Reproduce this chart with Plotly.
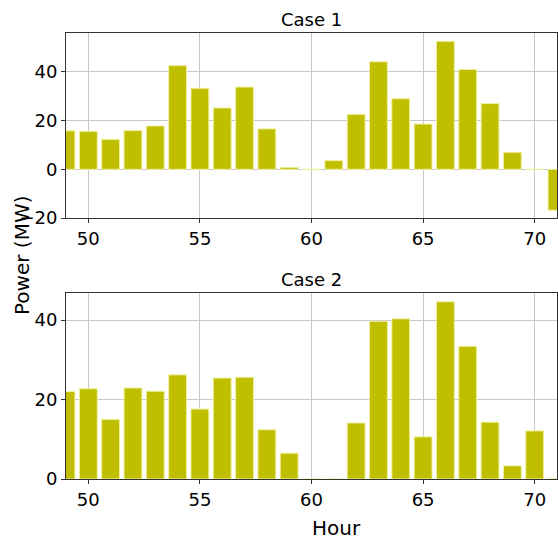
import plotly.graph_objects as go
from plotly.subplots import make_subplots

hours = list(range(49, 72))
case1 = [15.8, 15.6, 12.3, 15.9, 17.8, 42.6, 33.3, 25.2, 33.8, 16.6, 0.8, 0.0,
         3.6, 22.6, 44.2, 29.0, 18.6, 52.6, 41.0, 27.0, 7.0, 0.0, -16.8]
case2 = [22.0, 22.7, 15.0, 22.9, 22.1, 26.2, 17.6, 25.4, 25.6, 12.4, 6.5, 0.0,
         0.0, 14.1, 39.7, 40.3, 10.6, 44.6, 33.4, 14.3, 3.3, 12.1, 0.0]
titles = ["Case 1", "Case 2"]

W, H = 558, 537
L, R, T, B = 66, 1, 33, 58
ph = H - T - B
pw = W - L - R
top_dom = [(479 - 218) / ph, 1.0]
bot_dom = [0.0, (479 - 293) / ph]

fig = make_subplots(rows=2, cols=1)
color = "#bfbf00"
for i, vals in enumerate([case1, case2]):
    fig.add_trace(go.Bar(x=hours, y=vals, width=0.8,
                         marker=dict(color=color, line=dict(color="#f0f0a0", width=1)),
                         showlegend=False, hoverinfo="skip"), row=i + 1, col=1)

font = "DejaVu Sans"
axis_common = dict(showgrid=True, gridcolor="#c8c8c8", gridwidth=1,
                   showline=True, linecolor="#333333", linewidth=1, mirror=True,
                   ticks="outside", ticklen=4, tickcolor="#333333",
                   tickfont=dict(family=font, size=18, color="black"), zeroline=False)
fig.update_layout(
    width=W, height=H, margin=dict(l=L, r=R, t=T, b=B),
    plot_bgcolor="white", paper_bgcolor="white", bargap=0.2,
    xaxis=dict(range=[49, 71], tickvals=[50, 55, 60, 65, 70], **axis_common),
    xaxis2=dict(range=[49, 71], tickvals=[50, 55, 60, 65, 70], **axis_common),
    yaxis=dict(range=[-20, 56], tickvals=[-20, 0, 20, 40], domain=top_dom, **axis_common),
    yaxis2=dict(range=[0, 46.8], tickvals=[0, 20, 40], domain=bot_dom, **axis_common),
)
fig.layout.xaxis.domain = [0, 1]
fig.layout.xaxis2.domain = [0, 1]

annos = [
    dict(text=titles[0], x=0.5, xref="paper", y=top_dom[1], yref="paper", yanchor="bottom",
         yshift=1, showarrow=False, font=dict(family=font, size=18, color="black")),
    dict(text=titles[1], x=0.5, xref="paper", y=bot_dom[1], yref="paper", yanchor="bottom",
         yshift=1, showarrow=False, font=dict(family=font, size=18, color="black")),
    dict(text="Power (MW)", x=(22 - L) / pw, xref="paper", xanchor="center",
         y=(479 - 256) / ph, yref="paper", yanchor="middle",
         showarrow=False, textangle=-90, font=dict(family=font, size=20, color="black")),
    dict(text="Hour", x=(336 - L) / pw, xref="paper", xanchor="center", y=0, yref="paper",
         yanchor="top", yshift=-35, showarrow=False,
         font=dict(family=font, size=20, color="black")),
]
fig.update_layout(annotations=annos)
fig.write_html("out.html", config={"displayModeBar": False},
               post_script="document.body.style.margin='0';document.body.style.overflow='hidden';")
